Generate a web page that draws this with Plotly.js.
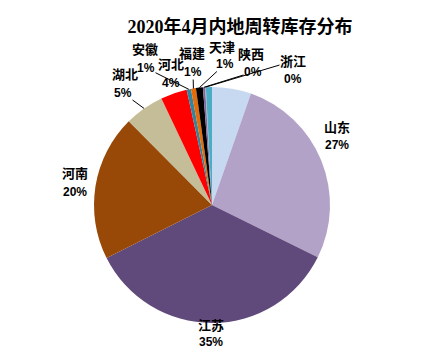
<!DOCTYPE html>
<html><head><meta charset="utf-8">
<script src="https://cdn.plot.ly/plotly-3.0.1.min.js"></script>
<style>html,body{margin:0;padding:0;background:#fff}</style>
</head><body><div id="chart" style="width:447px;height:355px"></div>
<script>
// ---- data ----
const categories = ["其他1","山东","江苏","河南","湖北","河北","安徽","福建","天津","陕西","浙江","其他2"];
const values = [5.35, 26.95, 35.25, 19.95, 5.4, 3.6, 0.6, 0.67, 0.95, 0.3, 0.1, 0.83];
const percentLabels = ["", "27%", "35%", "20%", "5%", "4%", "1%", "1%", "1%", "0%", "0%", ""];
const shownNames = ["", "山东", "江苏", "河南", "湖北", "河北", "安徽", "福建", "天津", "陕西", "浙江", ""];
const colors = ["#C6D9F1","#B3A2C7","#604A7B","#984807","#C4BD97","#FF0000","#31859C","#E46C0A","#000000","#8064A2","#A6A6A6","#4BACC6"];

// ---- layout config (label placement, pixels) ----
const W = 447, H = 355, cx = 212, cy = 205, R = 118;
const labelPos = {
  "山东": {name:[337,128], pct:[337,145], arrow:null},
  "江苏": {name:[211,325], pct:[211,342], arrow:null},
  "河南": {name:[75,173],  pct:[75,192],  arrow:null},
  "湖北": {name:[125,75],  pct:[123,93],  arrow:"pct"},
  "河北": {name:[171,65],  pct:[171,83],  arrow:null},
  "安徽": {name:[145,49],  pct:[146,68],  arrow:"pct"},
  "福建": {name:[192,53],  pct:[193,72],  arrow:"pct"},
  "天津": {name:[222,47],  pct:[225,64],  arrow:"pct"},
  "陕西": {name:[251,54],  pct:[253,72],  arrow:"pct"},
  "浙江": {name:[293,61],  pct:[293,79],  arrow:"name"}
};

const total = values.reduce((a,b)=>a+b,0);
let cum = 0;
const mids = values.map(v => { const m = (cum + v/2)/total*2*Math.PI; cum += v; return m; });

const nameFont = {family:"Liberation Sans, Noto Sans CJK SC", size:13, color:"#000", weight:700};
const pctFont = {family:"Liberation Sans, Noto Sans CJK SC", size:12, color:"#000", weight:700};

const annotations = [];
categories.forEach((c,i) => {
  const lp = labelPos[shownNames[i]];
  if (!lp) return;
  const tipX = cx + R*Math.sin(mids[i]), tipY = cy - R*Math.cos(mids[i]);
  [["name", shownNames[i], nameFont], ["pct", percentLabels[i], pctFont]].forEach(([k, txt, f]) => {
    const p = lp[k];
    if (lp.arrow === k) {
      annotations.push({xref:"paper", yref:"paper", x: tipX/W, y: 1 - tipY/H,
        ax: p[0]-tipX, ay: p[1]-tipY, axref:"pixel", ayref:"pixel",
        text: txt, font: f, showarrow:true, arrowhead:0, arrowwidth:1, arrowcolor:"#000",
        standoff:0, borderpad:0, xanchor:"center", yanchor:"middle"});
    } else {
      annotations.push({xref:"paper", yref:"paper", x: p[0]/W, y: 1 - p[1]/H,
        text: txt, font: f, showarrow:false, xanchor:"center", yanchor:"middle"});
    }
  });
});

const trace = {
  type:"pie", labels: categories, values: values, sort:false, direction:"clockwise", rotation:0,
  marker:{colors: colors, line:{width:0}}, textinfo:"none", hoverinfo:"label+percent",
  domain:{x:[(cx-R)/W, (cx+R)/W], y:[(H-cy-R)/H, (H-cy+R)/H]}, showlegend:false
};

const layout = {
  width:W, height:H, margin:{l:0,r:0,t:0,b:0}, paper_bgcolor:"#fff", showlegend:false,
  title:{text:"2020年4月内地周转库存分布", x:240/W, y:1-27/H, xanchor:"center", yanchor:"middle",
    font:{family:"Liberation Serif, Noto Sans CJK SC", size:18, color:"#000", weight:700}},
  annotations: annotations
};

Plotly.newPlot("chart", [trace], layout, {displayModeBar:false, staticPlot:true});
</script></body></html>
